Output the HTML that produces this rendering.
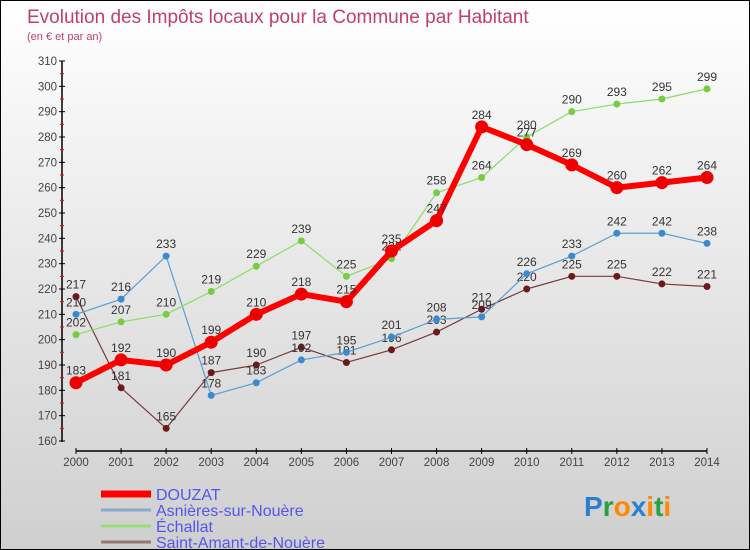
<!DOCTYPE html>
<html><head><meta charset="utf-8"><style>
body{margin:0}
#c{width:750px;height:550px;position:relative;box-sizing:border-box;border:1px solid #000;background:linear-gradient(#ffffff,#cfcfcf);font-family:"Liberation Sans","DejaVu Sans",sans-serif;overflow:hidden}
</style></head><body>
<div id="c">
<svg id="s" width="750" height="550" style="position:absolute;left:0;top:0"></svg>
</div>
<script>
const years=[2000,2001,2002,2003,2004,2005,2006,2007,2008,2009,2010,2011,2012,2013,2014];
const douzat=[183,192,190,199,210,218,215,235,247,284,277,269,260,262,264];
const asnieres=[210,216,233,178,183,192,195,201,208,209,226,233,242,242,238];
const echallat=[202,207,210,219,229,239,225,232,258,264,280,290,293,295,299];
const stamant=[217,181,165,187,190,197,191,196,203,212,220,225,225,222,221];
const yTicks=[160,170,180,190,200,210,220,230,240,250,260,270,280,290,300,310];
const NS="http://www.w3.org/2000/svg";
const s=document.getElementById('s');
function X(i){return 75+i*(706-75)/14;}
function Y(v){return 440-(v-160)*380/150;}
function el(t,a,p){const e=document.createElementNS(NS,t);for(const k in a)e.setAttribute(k,a[k]);(p||s).appendChild(e);return e;}
function txt(x,y,str,a){const e=el('text',Object.assign({x:x,y:y},a));e.textContent=str;return e;}
let t=txt(26,22,"Evolution des Impôts locaux pour la Commune par Habitant",{fill:"#c0406a","font-size":"19"});

t=txt(26,39,"(en € et par an)",{fill:"#c0406a","font-size":"11"});

let ax=el('line',{x1:61,y1:60,x2:61,y2:441,stroke:"#000","stroke-width":1.5});

yTicks.forEach((v,i)=>{
 el('line',{x1:58,x2:64,y1:Y(v),y2:Y(v),stroke:"#000"});
 if(i<yTicks.length-1)el('line',{x1:59,x2:63,y1:Y(v+5),y2:Y(v+5),stroke:"#f00"});
 const l=txt(56,Y(v)+4,v,{fill:"#444","font-size":"11.5","text-anchor":"end"});
 
});
ax=el('line',{x1:75,y1:450,x2:706,y2:450,stroke:"#000","stroke-width":1.5});

years.forEach((y,i)=>{
 el('line',{x1:X(i),x2:X(i),y1:447,y2:453,stroke:"#000"});
 const l=txt(X(i),465,y,{fill:"#444","font-size":"11.5","text-anchor":"middle"});
 
});
function series(data,color,w,r,dot,name){
 const g=el('g',{});
 
 el('polyline',{points:data.map((v,i)=>X(i)+","+Y(v)).join(" "),fill:"none",stroke:color,"stroke-width":w,"stroke-linejoin":"round"},g);
 data.forEach((v,i)=>{
  const c=el('circle',{cx:X(i),cy:Y(v),r:r,fill:dot},g);
  
  txt(X(i),Y(v)-8,v,{fill:"#333","font-size":"12","text-anchor":"middle"},g);
 });
}
series(stamant,"#7a3a3a",1.2,3.5,"#6a1a1a","saint-amant-series");
series(asnieres,"#5a9ed0",1.2,3.5,"#3a8ad0","asnieres-series");
series(echallat,"#88dd66",1.2,3.5,"#77cc44","echallat-series");
series(douzat,"#ff0000",6,6.5,"#ee0000","douzat-series");
const leg=[["DOUZAT","#ff0000",7],["Asnières-sur-Nouère","#88aacc",3],["Échallat","#99dd77",3],["Saint-Amant-de-Nouère","#997777",3]];
leg.forEach((d,i)=>{
 const g=el('g',{});
 
 const y=493+i*16;
 el('line',{x1:100,x2:150,y1:y,y2:y,stroke:d[1],"stroke-width":d[2]},g);
 txt(155,y+6,d[0],{fill:"#5555ee","font-size":"16"},g);
});
const lg=el('text',{x:583,y:515,"font-size":"28","font-family":"Liberation Sans,sans-serif","font-weight":"bold"});

[["P","#2a7fd0"],["r","#2aa040"],["o","#ff8800"],["x","#2a7fd0"],["i","#ff8800"],["t","#2aa040"],["i","#ff8800"]].forEach(c=>{const sp=el('tspan',{fill:c[1]},lg);sp.textContent=c[0];});
</script>
</body></html>
